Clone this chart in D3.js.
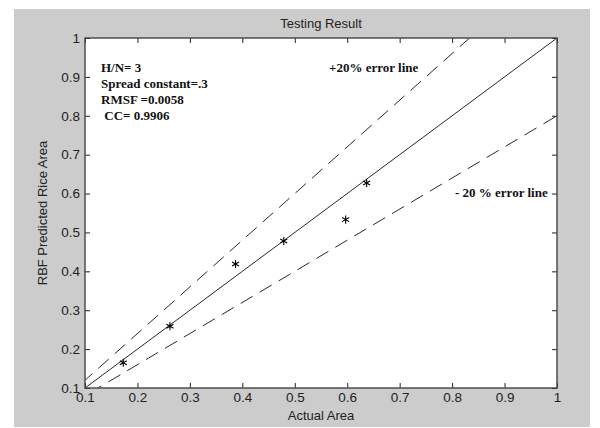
<!DOCTYPE html>
<html>
<head>
<meta charset="utf-8">
<script src="https://cdn.jsdelivr.net/npm/d3@7"></script>
<style>
  body { margin: 0; background: #fff; }
  svg text { font-family: "Liberation Sans", Arial, sans-serif; }
</style>
</head>
<body>
<svg id="chart"></svg>
<script>
// data
var actual    = [0.173, 0.262, 0.387, 0.479, 0.597, 0.637];
var predicted = [0.165, 0.259, 0.419, 0.478, 0.533, 0.627];
var ticks = [0.1, 0.2, 0.3, 0.4, 0.5, 0.6, 0.7, 0.8, 0.9, 1];
var tickLabels = ["0.1", "0.2", "0.3", "0.4", "0.5", "0.6", "0.7", "0.8", "0.9", "1"];
var notes = ["H/N= 3", "Spread constant=.3", "RMSF =0.0058", " CC= 0.9906"];
var errorFactors = [1.2, 0.8];

var W = 600, H = 428;
var margin = {top: 38, right: 43, bottom: 40, left: 85},
    width = W - margin.left - margin.right,
    height = H - margin.top - margin.bottom;

var svg = d3.select("#chart")
  .attr("width", W)
  .attr("height", H);

// grey figure background
svg.append("rect")
  .attr("x", 14).attr("y", 9)
  .attr("width", 576).attr("height", 418)
  .attr("fill", "#cccccc");

var g = svg.append("g")
  .attr("transform", "translate(" + margin.left + "," + margin.top + ")");

var x = d3.scaleLinear().domain([0.1, 1]).range([0, width]);
var y = d3.scaleLinear().domain([0.1, 1]).range([height, 0]);

g.append("rect")
  .attr("width", width).attr("height", height)
  .attr("fill", "#fff");

var defs = svg.append("defs");
defs.append("clipPath").attr("id", "clip")
  .append("rect").attr("width", width).attr("height", height);

var plot = g.append("g").attr("clip-path", "url(#clip)");

var line = d3.line()
  .x(function(d) { return x(d[0]); })
  .y(function(d) { return y(d[1]); });

// ideal line
plot.append("path")
  .attr("d", line([[0.1, 0.1], [1, 1]]))
  .attr("fill", "none")
  .attr("stroke", "#111")
  .attr("stroke-width", 0.9);

// +/- 20% error lines
errorFactors.forEach(function(f) {
  plot.append("path")
    .attr("d", line([[0, 0], [1.2, 1.2 * f]]))
    .attr("fill", "none")
    .attr("stroke", "#111")
    .attr("stroke-width", 0.9)
    .attr("stroke-dasharray", "14,8");
});

// data points
var pts = actual.map(function(a, i) { return [a, predicted[i]]; });
g.selectAll("path.pt")
  .data(pts)
  .enter().append("path")
  .attr("class", "pt")
  .attr("transform", function(d) { return "translate(" + x(d[0]) + "," + y(d[1]) + ")"; })
  .attr("d", d3.symbol().type(d3.symbolAsterisk).size(45))
  .attr("fill", "none")
  .attr("stroke", "#000")
  .attr("stroke-width", 1.1);

// axes, MATLAB style with inward ticks on all four sides
var tickLen = 5;
g.append("g")
  .attr("transform", "translate(0," + height + ")")
  .call(d3.axisBottom(x).tickValues(ticks).tickSize(-tickLen).tickPadding(4)
    .tickFormat(function(d, i) { return tickLabels[i]; }));
g.append("g")
  .call(d3.axisLeft(y).tickValues(ticks).tickSize(-tickLen).tickPadding(5)
    .tickFormat(function(d, i) { return tickLabels[i]; }));
g.append("g")
  .call(d3.axisTop(x).tickValues(ticks).tickSize(-tickLen).tickFormat(""));
g.append("g")
  .attr("transform", "translate(" + width + ",0)")
  .call(d3.axisRight(y).tickValues(ticks).tickSize(-tickLen).tickFormat(""));

g.selectAll(".domain").remove();
g.selectAll(".tick line").attr("stroke", "#222");
g.selectAll(".tick text")
  .attr("fill", "#222")
  .style("font-family", "'Liberation Sans', Arial, sans-serif")
  .style("font-size", "13.5px");

g.append("rect")
  .attr("width", width).attr("height", height)
  .attr("fill", "none")
  .attr("stroke", "#444")
  .attr("stroke-width", 1.4);

// titles
svg.append("text")
  .attr("x", margin.left + width / 2).attr("y", 28)
  .attr("text-anchor", "middle")
  .attr("fill", "#222")
  .style("font-size", "13px")
  .text("Testing Result");

svg.append("text")
  .attr("x", margin.left + width / 2).attr("y", 420)
  .attr("text-anchor", "middle")
  .attr("fill", "#222")
  .style("font-size", "13px")
  .text("Actual Area");

svg.append("text")
  .attr("transform", "translate(47," + (margin.top + height / 2) + ") rotate(-90)")
  .attr("text-anchor", "middle")
  .attr("fill", "#222")
  .style("font-size", "13px")
  .text("RBF Predicted Rice Area");

// annotations
var serif = "'Liberation Serif', 'Times New Roman', serif";
svg.selectAll("text.note")
  .data(notes)
  .enter().append("text")
  .attr("class", "note")
  .attr("x", 101)
  .attr("y", function(d, i) { return 72 + i * 16; })
  .attr("xml:space", "preserve")
  .style("font-family", serif)
  .style("font-weight", "bold")
  .style("font-size", "13px")
  .attr("fill", "#111")
  .text(function(d) { return d; });

svg.append("text")
  .attr("x", 329).attr("y", 72)
  .style("font-family", serif)
  .style("font-weight", "bold")
  .style("font-size", "13px")
  .attr("fill", "#111")
  .text("+20% error line");

svg.append("text")
  .attr("x", 455).attr("y", 197)
  .style("font-family", serif)
  .style("font-weight", "bold")
  .style("font-size", "13px")
  .attr("fill", "#111")
  .text("- 20 % error line");
</script>
</body>
</html>
